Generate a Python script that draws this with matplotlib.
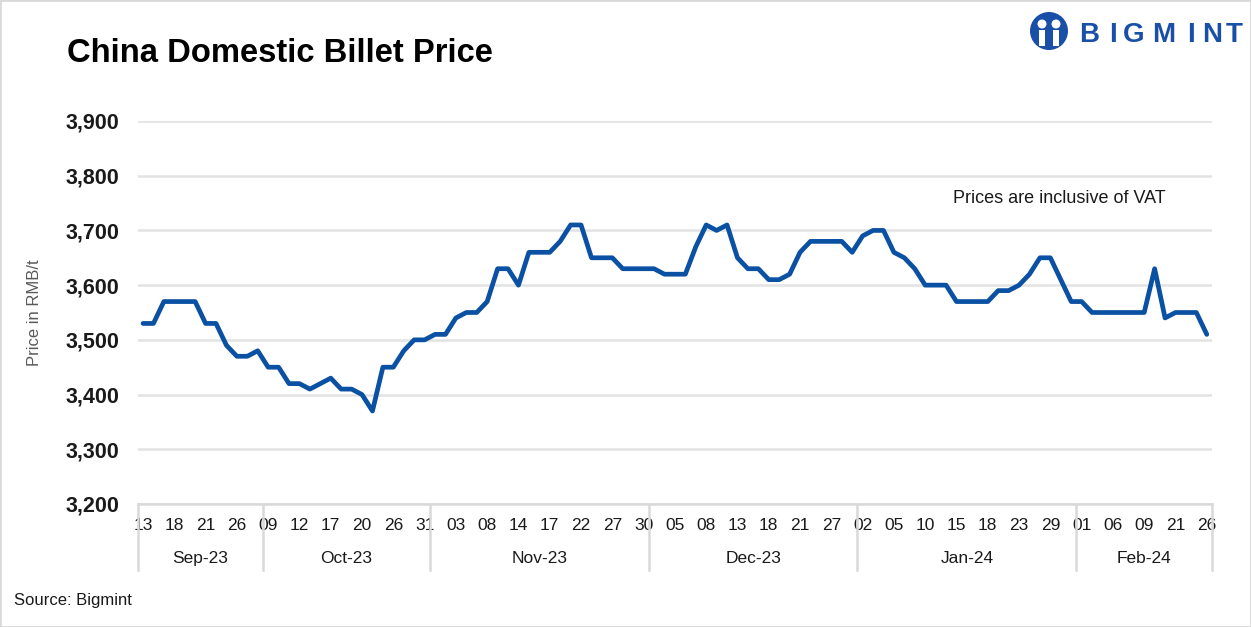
import matplotlib
matplotlib.use("Agg")
import matplotlib.pyplot as plt
import matplotlib.transforms as mtransforms
from matplotlib.patches import Rectangle, Ellipse

plt.rcParams["font.family"] = ["Liberation Sans", "DejaVu Sans"]

# Daily billet price (RMB/t), one value per trading day
prices = [
    3530, 3530, 3570, 3570, 3570, 3570, 3530, 3530, 3490, 3470, 3470, 3480,            # Sep-23
    3450, 3450, 3420, 3420, 3410, 3420, 3430, 3410, 3410, 3400, 3370, 3450, 3450,
    3480, 3500, 3500,                                                                    # Oct-23
    3510, 3510, 3540, 3550, 3550, 3570, 3630, 3630, 3600, 3660, 3660, 3660, 3680,
    3710, 3710, 3650, 3650, 3650, 3630, 3630, 3630,                                      # Nov-23
    3630, 3620, 3620, 3620, 3670, 3710, 3700, 3710, 3650, 3630, 3630, 3610, 3610,
    3620, 3660, 3680, 3680, 3680, 3680, 3660,                                            # Dec-23
    3690, 3700, 3700, 3660, 3650, 3630, 3600, 3600, 3600, 3570, 3570, 3570, 3570,
    3590, 3590, 3600, 3620, 3650, 3650, 3610, 3570,                                      # Jan-24
    3570, 3550, 3550, 3550, 3550, 3550, 3550, 3630, 3540, 3550, 3550, 3550, 3510,        # Feb-24
]

day_labels = ["13", "18", "21", "26", "09", "12", "17", "20", "26", "31",
              "03", "08", "14", "17", "22", "27", "30", "05", "08", "13",
              "18", "21", "27", "02", "05", "10", "15", "18", "23", "29",
              "01", "06", "09", "21", "26"]
months = ["Sep-23", "Oct-23", "Nov-23", "Dec-23", "Jan-24", "Feb-24"]
month_counts = [12, 16, 21, 20, 21, 13]

W, H = 1251, 627
fig = plt.figure(figsize=(W / 100, H / 100), dpi=100)
ax = fig.add_axes([137.8 / W, 1 - 504 / H, (1212 - 137.8) / W, (504 - 121) / H])

x = list(range(len(prices)))
ax.plot(x, prices, color="#0a51a3", linewidth=3.4, solid_joinstyle="round",
        solid_capstyle="round", zorder=3)

ax.set_xlim(-0.5, len(prices) - 0.5)
ax.set_ylim(3200, 3900)
ax.set_yticks(range(3200, 3901, 100))
ax.set_yticklabels([f"{v:,}" for v in range(3200, 3901, 100)],
                   fontsize=15.5, fontweight="bold", color="#1a1a1a")
ax.set_xticks(range(0, len(prices), 3))
ax.set_xticklabels(day_labels, fontsize=12.5, color="#1a1a1a")
ax.tick_params(axis="both", length=0)
ax.tick_params(axis="y", pad=13)
ax.tick_params(axis="x", pad=10)
ax.grid(axis="y", color="#e3e3e3", linewidth=1.8)
ax.set_axisbelow(True)
for side in ["top", "right", "left"]:
    ax.spines[side].set_visible(False)
ax.spines["bottom"].set_color("#d9d9d9")
ax.spines["bottom"].set_linewidth(1.8)

ax.set_ylabel("Price in RMB/t", fontsize=12, color="#595959", labelpad=17)

# month groups under the day labels
trans = mtransforms.blended_transform_factory(ax.transData, ax.transAxes)
start = -0.5
bounds = [start]
for m, n in zip(months, month_counts):
    end = start + n
    ax.text((start + end) / 2, -0.141, m, transform=trans, ha="center", va="center",
            fontsize=12.5, color="#1a1a1a")
    bounds.append(end)
    start = end
for b in bounds:
    ax.plot([b, b], [0, -0.172], transform=trans, color="#d9d9d9",
            linewidth=1.8, clip_on=False)

ax.text(0.957, 0.797, "Prices are inclusive of VAT", transform=ax.transAxes,
        ha="right", va="center", fontsize=13, color="#1a1a1a")

fig.text(67 / W, 1 - 53 / H, "China Domestic Billet Price", fontsize=23.6,
         fontweight="bold", ha="left", va="center", color="#000000")
fig.text(14 / W, 1 - 600 / H, "Source: Bigmint", fontsize=12, ha="left",
         va="center", color="#1a1a1a")

# logo
logo_blue = "#1a4fa8"
fig.patches.append(Ellipse((1049 / W, 1 - 31 / H), 38 / W, 38 / H, transform=fig.transFigure,
                           facecolor=logo_blue, edgecolor="none"))
for dx in (-7, 7):
    fig.patches.append(Ellipse(((1049 + dx) / W, 1 - 24 / H), 9 / W, 9 / H,
                               transform=fig.transFigure, facecolor="white", edgecolor="none"))
    fig.patches.append(Rectangle(((1049 + dx - 3) / W, 1 - 46 / H), 6 / W, 16 / H,
                                 transform=fig.transFigure, facecolor="white", edgecolor="none"))
for i, ch in enumerate("BIGMINT"):
    xs = [1089, 1113, 1134, 1164, 1191, 1212, 1234][i]
    fig.text(xs / W, 1 - 35 / H, ch, fontsize=20, fontweight="heavy", color=logo_blue,
             ha="center", va="center")

fig.patches.append(Rectangle((0, 0), 1, 1, transform=fig.transFigure, fill=False,
                             edgecolor="#d9d9d9", linewidth=2))

fig.savefig("out.png", dpi=100)
